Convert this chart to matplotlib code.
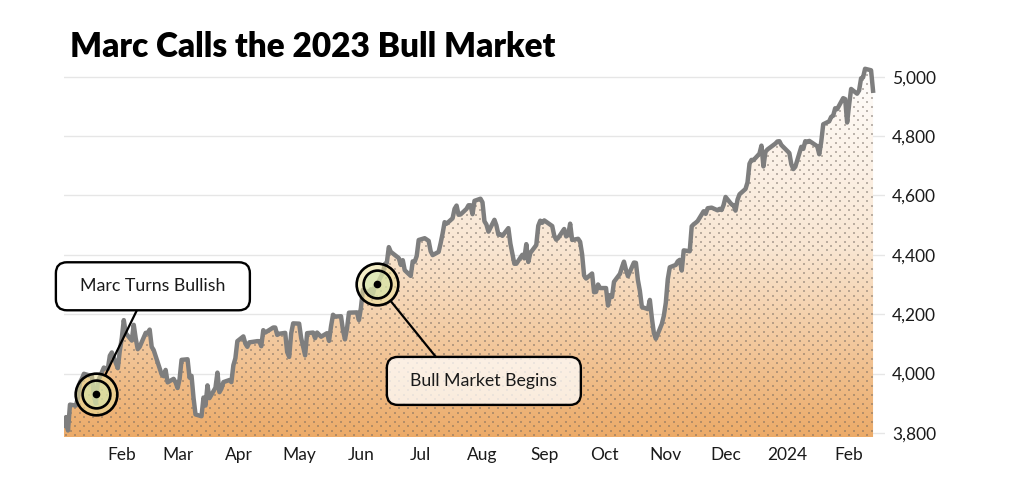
import numpy as np
import pandas as pd
import matplotlib
matplotlib.use("Agg")
import matplotlib.pyplot as plt
import matplotlib.dates as mdates
from matplotlib.patches import Polygon, FancyBboxPatch
from matplotlib.lines import Line2D
from matplotlib.colors import LinearSegmentedColormap
from matplotlib.ticker import FuncFormatter

plt.rcParams['font.family'] = ['Lato', 'DejaVu Sans']

# S&P 500 daily closes, Jan 3 2023 - Feb 13 2024
nyse_holidays = ["2023-01-16", "2023-02-20", "2023-04-07", "2023-05-29",
                 "2023-06-19", "2023-07-04", "2023-09-04", "2023-11-23",
                 "2023-12-25", "2024-01-01", "2024-01-15"]
dates = pd.bdate_range("2023-01-03", "2024-02-13", freq="C", holidays=nyse_holidays)

closes = np.array([
    # Jan 2023
    3824, 3853, 3808, 3895, 3892, 3919, 3970, 3983, 3999, 3991,
    3929, 3899, 3973, 4020, 4017, 4016, 4060, 4071, 4018, 4077,
    # Feb
    4119, 4180, 4136, 4111, 4164, 4118, 4082, 4090, 4137, 4136,
    4148, 4090, 4079, 3997, 3991, 4012, 3970, 3982, 3970,
    # Mar
    3951, 3981, 4046, 4048, 3986, 3992, 3918, 3862, 3856, 3919,
    3892, 3960, 3917, 3952, 4003, 3937, 3949, 3971, 3978, 3971,
    4028, 4051, 4109,
    # Apr
    4125, 4101, 4090, 4105, 4109, 4109, 4092, 4146, 4138, 4151,
    4155, 4155, 4130, 4134, 4137, 4072, 4056, 4135, 4169,
    # May
    4168, 4120, 4091, 4061, 4136, 4138, 4119, 4138, 4131, 4124,
    4136, 4110, 4159, 4198, 4192, 4193, 4146, 4115, 4151, 4205,
    4206, 4180,
    # Jun
    4221, 4282, 4274, 4284, 4268, 4294, 4299, 4339, 4369, 4373,
    4426, 4410, 4389, 4366, 4382, 4348, 4329, 4378, 4377, 4396,
    4450,
    # Jul
    4456, 4447, 4412, 4399, 4410, 4439, 4472, 4510, 4505, 4523,
    4555, 4566, 4535, 4536, 4555, 4567, 4567, 4537, 4582, 4589,
    # Aug
    4577, 4513, 4502, 4478, 4518, 4499, 4468, 4469, 4464, 4490,
    4438, 4404, 4370, 4370, 4400, 4388, 4436, 4376, 4406, 4433,
    4498, 4515, 4508,
    # Sep
    4516, 4497, 4465, 4451, 4457, 4487, 4462, 4467, 4505, 4450,
    4454, 4444, 4402, 4330, 4320, 4337, 4274, 4275, 4300, 4288,
    # Oct
    4288, 4229, 4264, 4258, 4309, 4336, 4358, 4377, 4350, 4328,
    4374, 4373, 4315, 4278, 4224, 4217, 4248, 4187, 4137, 4117,
    4167, 4194,
    # Nov
    4238, 4318, 4358, 4366, 4378, 4383, 4347, 4415, 4412, 4496,
    4503, 4508, 4514, 4547, 4538, 4557, 4559, 4550, 4555, 4551,
    4568,
    # Dec
    4595, 4570, 4567, 4549, 4586, 4604, 4622, 4644, 4707, 4720,
    4719, 4741, 4768, 4698, 4747, 4755, 4775, 4782, 4783, 4770,
    # Jan 2024
    4743, 4705, 4689, 4697, 4764, 4757, 4783, 4780, 4784, 4766,
    4739, 4781, 4840, 4850, 4865, 4869, 4894, 4891, 4928, 4925,
    4846,
    # Feb 2024
    4906, 4959, 4943, 4954, 4995, 4998, 5027, 5022, 4953,
])
assert len(dates) == len(closes)

month_ticks = pd.date_range("2023-02-01", "2024-02-01", freq="MS")
month_labels = ["Feb", "Mar", "Apr", "May", "Jun", "Jul", "Aug",
                "Sep", "Oct", "Nov", "Dec", "2024", "Feb"]
y_ticks = [3800, 4000, 4200, 4400, 4600, 4800, 5000]

note_labels = ["Marc Turns Bullish", "Bull Market Begins"]
note_dates = pd.to_datetime(["2023-01-19", "2023-06-09"])
note_values = [3930, 4302]

# layout of the callouts, pixels relative to the marked point (x right, y up)
box_offsets = [(57, 108), (107, -97)]
box_size = (194, 48)
link_offsets = [(-16, -24), (-48, 24)]   # where the connector meets the box
box_faces = [(1, 1, 1, 1), (1, 1, 1, 0.75)]

W, H, DPI = 1024, 483, 100
fig = plt.figure(figsize=(W / DPI, H / DPI), dpi=DPI)
ax = fig.add_axes([64 / W, 46 / H, 821 / W, 378 / H])

ylo, yhi = 3786, 5060
x0 = mdates.date2num(pd.Timestamp("2023-01-03"))
x1 = mdates.date2num(pd.Timestamp("2024-02-19"))
xd = mdates.date2num(dates.to_pydatetime())

# area polygon under the line
verts = np.vstack([np.column_stack([xd, closes]),
                   [[xd[-1], ylo], [xd[0], ylo]]])
area = Polygon(verts, closed=True, facecolor="none", edgecolor="none",
               transform=ax.transData)
ax.add_patch(area)

cmap = LinearSegmentedColormap.from_list("fade", ["#ffffff", "#f9e6d2", "#ecab69"])
grad = np.linspace(0, 1, 256).reshape(-1, 1)
im = ax.imshow(grad, extent=[x0, x1, ylo, yhi], aspect="auto", cmap=cmap,
               origin="upper", zorder=1, interpolation="bilinear")
im.set_clip_path(area)

ax.set_xlim(x0, x1)
ax.set_ylim(ylo, yhi)

# dotted texture over the area
pos = ax.get_position()
px_l, px_r = pos.x0 * W, pos.x1 * W
px_b, px_t = pos.y0 * H, pos.y1 * H
dot_x, dot_y = [], []
for i, yy in enumerate(np.arange(px_b + 2, px_t, 4.5)):
    start = px_l + 2 + (4.5 if i % 2 else 0)
    xs = np.arange(start, px_r, 9)
    dot_x.extend(xs)
    dot_y.extend([yy] * len(xs))
dots = ax.scatter(np.array(dot_x) / DPI, np.array(dot_y) / DPI, s=2.6, marker="s",
                  color="#6e655e", alpha=0.45, linewidths=0,
                  transform=fig.dpi_scale_trans, zorder=2)
dots.set_clip_path(area)

ax.plot(dates, closes, color="#7e7e7e", lw=3.2, zorder=3)

ax.set_yticks(y_ticks)
ax.yaxis.set_major_formatter(FuncFormatter(lambda v, p: f"{v:,.0f}"))
ax.yaxis.tick_right()
ax.set_xticks(mdates.date2num(month_ticks.to_pydatetime()))
ax.set_xticklabels(month_labels)
ax.tick_params(axis="both", length=0, labelsize=12.5, colors="#1a1a1a")
ax.tick_params(axis="y", pad=5)
ax.tick_params(axis="x", pad=7)
ax.grid(axis="y", color="#e6e6e6", lw=1)
ax.set_axisbelow(True)
for s in ax.spines.values():
    s.set_visible(False)

# callouts
r_out = 22
for lab, d, v, (ox, oy), (lx, ly), face in zip(note_labels, note_dates, note_values,
                                               box_offsets, link_offsets, box_faces):
    px, py = ax.transData.transform((mdates.date2num(d), v))
    cx, cy = px + ox, py + oy
    ax_, ay_ = cx + lx, cy + ly
    vec = np.array([ax_ - px, ay_ - py])
    sx, sy = np.array([px, py]) + vec / np.linalg.norm(vec) * r_out
    fig.add_artist(Line2D([sx / DPI, ax_ / DPI], [sy / DPI, ay_ / DPI],
                          color="black", lw=1.6, transform=fig.dpi_scale_trans,
                          zorder=5))
    ax.plot([d], [v], "o", ms=30, mfc=(0.92, 0.88, 0.60, 0.55), mec="black",
            mew=1.9, zorder=4, clip_on=False)
    ax.plot([d], [v], "o", ms=20, mfc=(0.82, 0.90, 0.68, 0.55), mec="black",
            mew=1.9, zorder=4, clip_on=False)
    ax.plot([d], [v], "o", ms=4.5, color="black", zorder=4, clip_on=False)
    bw, bh = box_size
    box = FancyBboxPatch(((cx - bw / 2) / DPI, (cy - bh / 2) / DPI), bw / DPI, bh / DPI,
                         boxstyle="round,pad=0,rounding_size=0.11",
                         facecolor=face, edgecolor="black", lw=1.7,
                         transform=fig.dpi_scale_trans, zorder=6)
    fig.add_artist(box)
    fig.text(cx / W, cy / H, lab, ha="center", va="center", fontsize=12.8,
             color="#1a1a1a", zorder=7)

fig.text(70 / W, 1 - 57 / H, "Marc Calls the 2023 Bull Market", fontsize=24,
         fontweight="heavy", color="black", ha="left", va="baseline")

fig.savefig("out.png", dpi=DPI)
